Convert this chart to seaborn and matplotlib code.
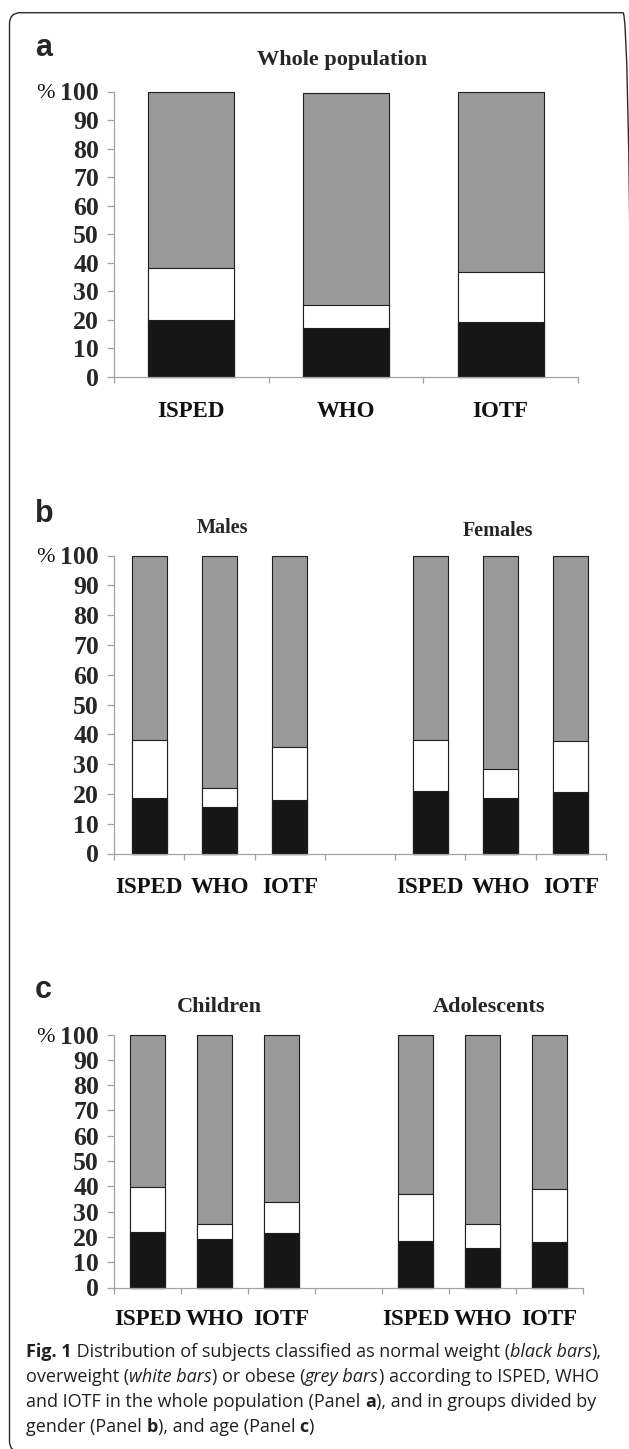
import numpy as np
import pandas as pd
import matplotlib
matplotlib.use("Agg")
import matplotlib.pyplot as plt
import seaborn as sns
from matplotlib.patches import FancyBboxPatch
from matplotlib.transforms import blended_transform_factory
from matplotlib.font_manager import FontProperties

#%%
# values (percent of subjects)

refs = ["ISPED", "WHO", "IOTF"]
y_ticks = list(range(0, 101, 10))

whole_normal = [20.0, 17.0, 19.3]
whole_over = [18.1, 8.2, 17.6]
whole_obese = [61.9, 74.3, 63.1]

males_normal = [18.5, 15.6, 17.9]
males_over = [19.5, 6.5, 17.9]
males_obese = [62.0, 77.9, 64.2]

females_normal = [21.1, 18.5, 20.7]
females_over = [16.9, 9.7, 17.1]
females_obese = [62.0, 71.8, 62.2]

children_normal = [22.0, 19.2, 21.6]
children_over = [17.8, 5.8, 12.2]
children_obese = [60.2, 75.0, 66.2]

adol_normal = [18.4, 15.8, 17.9]
adol_over = [18.5, 9.2, 21.1]
adol_obese = [63.1, 75.0, 61.0]

#%%
# style

W, H = 629, 1449
BLACK = "#161616"
GREY = "#999999"
EDGE = "#1e1e1e"
AXIS = "#a3a3a3"
SERIF = ["Liberation Serif", "DejaVu Serif"]
CAP_FONT = ["Open Sans", "DejaVu Sans"]

sns.set_style("white")
plt.rcParams["font.family"] = SERIF

fig = plt.figure(figsize=(W / 100, H / 100), dpi=100)


def fx(x):
    return x / W


def fy(y):
    return 1 - y / H


def make_frame(groups):
    rows = []
    for gname, normal, over, obese in groups:
        for r, n, o, b in zip(refs, normal, over, obese):
            rows.append({"slot": gname + " " + r, "ref": r,
                         "top_normal": n, "top_over": n + o,
                         "top_obese": n + o + b})
    return pd.DataFrame(rows)


def draw_panel(left, right, top, bottom, df, order, width, label_y):
    ax = fig.add_axes([fx(left), fy(bottom), (right - left) / W, (bottom - top) / H])
    for col, colr in [("top_obese", GREY), ("top_over", "white"), ("top_normal", BLACK)]:
        sns.barplot(data=df, x="slot", y=col, order=order, color=colr, width=width,
                    saturation=1, edgecolor=EDGE, linewidth=0.8, errorbar=None, ax=ax)
    for p in ax.patches:
        p.set_clip_on(False)
    ax.set_ylim(0, 100)
    ax.set_xlim(-0.5, len(order) - 0.5)
    ax.set_yticks(y_ticks)
    ax.set_xticks(np.arange(len(order) + 1) - 0.5, labels=[])
    ax.set_xlabel("")
    ax.set_ylabel("")
    for s in ["top", "right"]:
        ax.spines[s].set_visible(False)
    for s in ["left", "bottom"]:
        ax.spines[s].set_color(AXIS)
        ax.spines[s].set_linewidth(0.9)
    ax.tick_params(axis="y", left=True, length=5.3, width=0.9, color=AXIS,
                   pad=5.5, labelsize=18.5)
    ax.tick_params(axis="x", bottom=True, length=4.5, width=0.9, color=AXIS)
    for lbl in ax.get_yticklabels():
        lbl.set_fontweight("bold")

    # category names under the bars
    trans = blended_transform_factory(ax.transData, fig.transFigure)
    for i, key in enumerate(order):
        if key in df["slot"].values:
            name = df.loc[df["slot"] == key, "ref"].iloc[0]
            ax.text(i, fy(label_y), name, transform=trans, ha="center", va="baseline",
                    fontsize=16.5, fontweight="bold", color="#111111")

    # the % sign next to the 100 tick
    trans_y = blended_transform_factory(fig.transFigure, ax.transData)
    ax.text(fx(36), 100, "%", transform=trans_y, ha="left", va="center_baseline",
            fontsize=16, color="#111111")
    return ax


#%%
# panel a

df_a = make_frame([("All", whole_normal, whole_over, whole_obese)])
order_a = ["All " + r for r in refs]
draw_panel(114, 578, 91.5, 377, df_a, order_a, 0.557, 417)
fig.text(fx(342), fy(65), "Whole population", ha="center", va="baseline",
         fontsize=16, fontweight="bold")
fig.text(fx(35), fy(56), "a", family=["Liberation Sans"], fontsize=22,
         fontweight="bold", va="baseline")

#%%
# panel b

df_b = make_frame([("Males", males_normal, males_over, males_obese),
                   ("Females", females_normal, females_over, females_obese)])
order_b = ["Males " + r for r in refs] + ["gap"] + ["Females " + r for r in refs]
draw_panel(114, 606, 555.5, 853.5, df_b, order_b, 0.5, 893)
fig.text(fx(222), fy(533), "Males", ha="center", va="baseline",
         fontsize=14.5, fontweight="bold")
fig.text(fx(498), fy(536), "Females", ha="center", va="baseline",
         fontsize=14.5, fontweight="bold")
fig.text(fx(35), fy(522), "b", family=["Liberation Sans"], fontsize=22,
         fontweight="bold", va="baseline")

#%%
# panel c

df_c = make_frame([("Children", children_normal, children_over, children_obese),
                   ("Adolescents", adol_normal, adol_over, adol_obese)])
order_c = ["Children " + r for r in refs] + ["gap"] + ["Adolescents " + r for r in refs]
draw_panel(114, 583, 1034.5, 1287.5, df_c, order_c, 0.51, 1325)
fig.text(fx(219), fy(1012), "Children", ha="center", va="baseline",
         fontsize=16, fontweight="bold")
fig.text(fx(489), fy(1012), "Adolescents", ha="center", va="baseline",
         fontsize=16, fontweight="bold")
fig.text(fx(35), fy(998), "c", family=["Liberation Sans"], fontsize=22,
         fontweight="bold", va="baseline")

#%%
# caption with mixed bold / italic runs

caption = [
    [("Fig. 1", "bold"), (" Distribution of subjects classified as normal weight (", "normal"),
     ("black bars", "italic"), ("),", "normal")],
    [("overweight (", "normal"), ("white bars", "italic"), (") or obese (", "normal"),
     ("grey bars", "italic"), (") according to ISPED, WHO", "normal")],
    [("and IOTF in the whole population (Panel ", "normal"), ("a", "bold"),
     ("), and in groups divided by", "normal")],
    [("gender (Panel ", "normal"), ("b", "bold"), ("), and age (Panel ", "normal"),
     ("c", "bold"), (")", "normal")],
]
cap_baselines = [1357, 1382, 1407, 1432]

renderer = fig.canvas.get_renderer()


def font_for(style, size):
    fp = FontProperties(family=CAP_FONT, size=size)
    if style == "bold":
        fp.set_weight("bold")
    if style == "italic":
        fp.set_style("italic")
    return fp


def advance(txt, style, size):
    fp = font_for(style, size)
    w1 = renderer.get_text_width_height_descent("|" + txt + "|", fp, ismath=False)[0]
    w0 = renderer.get_text_width_height_descent("||", fp, ismath=False)[0]
    return w1 - w0


base = 11
line1 = sum(advance(t, s, base) for t, s in caption[0])
cap_size = base * 580 / line1

for runs, yb in zip(caption, cap_baselines):
    cur = 26
    for txt, style in runs:
        fp = font_for(style, cap_size)
        fig.text(fx(cur), fy(yb), txt, fontproperties=fp, ha="left", va="baseline",
                 color="#231f20")
        cur += advance(txt, style, cap_size)

#%%
# rounded frame round the whole figure

frame = FancyBboxPatch((0.095, -0.03), 6.245, 14.393,
                       boxstyle="round,pad=0,rounding_size=0.11",
                       transform=fig.dpi_scale_trans, facecolor="none",
                       edgecolor="#2a2a2a", linewidth=1.0)
fig.add_artist(frame)

fig.savefig("out.png", dpi=100)
